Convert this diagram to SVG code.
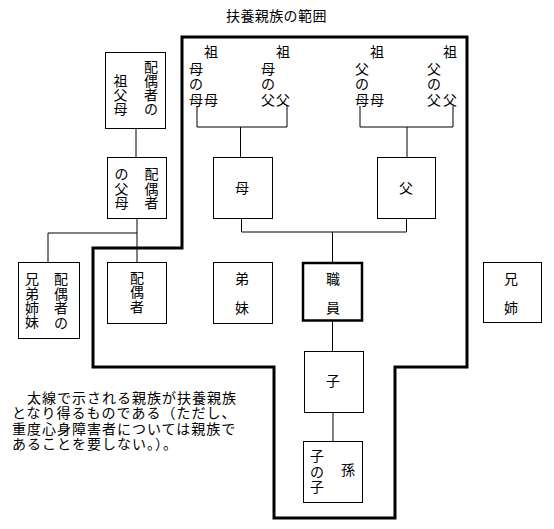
<svg xmlns="http://www.w3.org/2000/svg" width="554" height="529" viewBox="0 0 554 529">
<style>
.box{fill:#fff;stroke:#000;stroke-width:1}
.main{fill:#fff;stroke:#000;stroke-width:2.5}
.range{fill:none;stroke:#000;stroke-width:3}
.ln{fill:none;stroke:#000;stroke-width:1}
.t{font-family:"Noto Sans CJK JP","Noto Sans CJK SC",sans-serif;font-size:14px;text-anchor:middle;fill:#000}
.p{font-family:"Noto Sans CJK JP","Noto Sans CJK SC",sans-serif;font-size:14px;letter-spacing:1px;fill:#000}
</style>
<rect width="554" height="529" fill="#fff"/>
<text id="title" class="p" x="226" y="21" style="letter-spacing:0.4px">扶養親族の範囲</text>
<path id="range" class="range" d="M182,37 H467 V367 H395 V518 H274 V367 H93 V248 H182 Z"/>
<g id="connectors" class="ln">
<path d="M136,128 V157"/>
<path d="M137,218 V262"/>
<path d="M48,263 V233 H137"/>
<path d="M197,106 V127 H287 V106"/>
<path d="M240.5,127 V157"/>
<path d="M360,106 V127 H453 V106"/>
<path d="M407,127 V157"/>
<path d="M241.5,218 V232 H406.5 V218"/>
<path d="M332.5,232 V262"/>
<path d="M332.5,321 V351"/>
<path d="M333,412 V441"/>
</g>
<g id="spouse-grandparents">
<rect class="box" x="105.5" y="52.5" width="60" height="76"/>
<text class="t" x="151 151 151 151" y="72 86 100 114">配偶者の</text>
<text class="t" x="120.5 120.5 120.5" y="86 100 114">祖父母</text>
</g>
<g id="spouse-parents">
<rect class="box" x="107.5" y="157.5" width="59" height="61"/>
<text class="t" x="151.5 151.5 151.5" y="179 193.5 208">配偶者</text>
<text class="t" x="121.5 121.5 121.5" y="179 193.5 208">の父母</text>
</g>
<g id="spouse-siblings">
<rect class="box" x="18.5" y="262.5" width="61" height="76"/>
<text class="t" x="61 61 61 61" y="284 299 313 328">配偶者の</text>
<text class="t" x="32 32 32 32" y="284 299 313 327">兄弟姉妹</text>
</g>
<g id="spouse">
<rect class="box" x="107.5" y="262.5" width="59" height="61"/>
<text class="t" x="137 137 137" y="282.5 297 311.5">配偶者</text>
</g>
<g id="younger-siblings">
<rect class="box" x="213.5" y="262.5" width="59" height="61"/>
<text class="t" x="242 242" y="284 313">弟妹</text>
</g>
<g id="employee">
<rect class="main" x="303" y="263" width="59" height="57.5"/>
<text class="t" x="333 333" y="284 313">職員</text>
</g>
<g id="older-siblings">
<rect class="box" x="483.5" y="262.5" width="58" height="60"/>
<text class="t" x="511 511" y="284 313">兄姉</text>
</g>
<g id="mother">
<rect class="box" x="213.5" y="157.5" width="59" height="61"/>
<text class="t" x="242" y="193">母</text>
</g>
<g id="father">
<rect class="box" x="377.5" y="157.5" width="58" height="61"/>
<text class="t" x="406" y="193">父</text>
</g>
<g id="child">
<rect class="box" x="304.5" y="351.5" width="59" height="61"/>
<text class="t" x="333" y="386">子</text>
</g>
<g id="grandchild">
<rect class="box" x="303.5" y="441.5" width="59" height="61"/>
<text class="t" x="317 317 317" y="461 477 492">子の子</text>
<text class="t" x="348" y="475">孫</text>
</g>
<g id="mothers-mother">
<text class="t" x="211 211" y="57 105">祖母</text>
<text class="t" x="196 196 196" y="74 89 105">母の母</text>
</g>
<g id="mothers-father">
<text class="t" x="283 283" y="57 105">祖父</text>
<text class="t" x="268 268 268" y="74 89 105">母の父</text>
</g>
<g id="fathers-mother">
<text class="t" x="377 377" y="57 105">祖母</text>
<text class="t" x="362 362 362" y="74 89 105">父の母</text>
</g>
<g id="fathers-father">
<text class="t" x="450 450" y="57 105">祖父</text>
<text class="t" x="434 434 434" y="74 89 105">父の父</text>
</g>
<g id="note">
<text class="p"><tspan x="12" y="402.5">　太線で示される親族が扶養親族</tspan><tspan x="12" y="418">となり得るものである（ただし、</tspan><tspan x="12" y="433.5">重度心身障害者については親族で</tspan><tspan x="12" y="449">あることを要しない。）。</tspan></text>
</g>
</svg>
